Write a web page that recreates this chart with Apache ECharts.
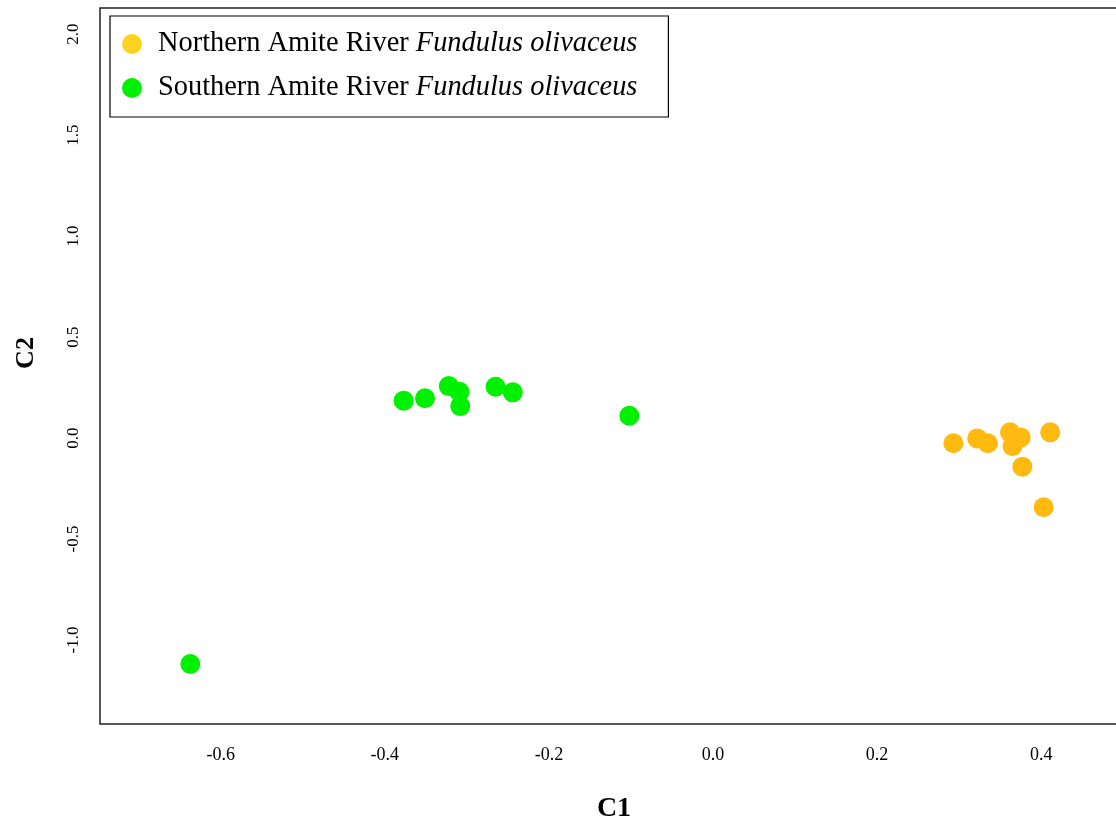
<!DOCTYPE html>
<html>
<head>
<meta charset="utf-8">
<script src="https://cdn.jsdelivr.net/npm/echarts@6/dist/echarts.min.js"></script>
<style>html,body{margin:0;padding:0;background:#fff}#c{width:1116px;height:820px}</style>
</head>
<body>
<div id="c"></div>
<script>
// Series names
const seriesNames = ['Northern Amite River Fundulus olivaceus', 'Southern Amite River Fundulus olivaceus'];
// Northern points [C1, C2]
const northernC1 = [0.293, 0.322, 0.335, 0.362, 0.375, 0.365, 0.411, 0.377, 0.403];
const northernC2 = [-0.026, -0.002, -0.026, 0.028, 0.003, -0.040, 0.028, -0.142, -0.343];
// Southern points [C1, C2]
const southernC1 = [-0.377, -0.351, -0.322, -0.309, -0.308, -0.265, -0.244, -0.102, -0.637];
const southernC2 = [0.185, 0.197, 0.257, 0.229, 0.158, 0.254, 0.226, 0.110, -1.119];
// Tick labels
const xTicks = [-0.6, -0.4, -0.2, 0.0, 0.2, 0.4];
const yTicks = [-1.0, -0.5, 0.0, 0.5, 1.0, 1.5, 2.0];

const serif = '"Liberation Serif", "Times New Roman", serif';
const northData = northernC1.map((v, i) => [v, northernC2[i]]);
const southData = southernC1.map((v, i) => [v, southernC2[i]]);

const chart = echarts.init(document.getElementById('c'), null, {renderer: 'canvas'});
chart.setOption({
  backgroundColor: '#fff',
  animation: false,
  grid: {left: 100, top: 8, width: 1028, height: 716, outerBoundsMode: 'none', containLabel: false,
         show: true, borderColor: '#222', borderWidth: 1.5, backgroundColor: 'transparent'},
  xAxis: {
    type: 'value', min: -0.7471, max: 0.5058,
    name: 'C1', nameLocation: 'middle', nameGap: 71,
    nameTextStyle: {fontFamily: serif, fontWeight: 'bold', fontSize: 28, color: '#000'},
    axisLine: {show: false}, axisTick: {show: false}, splitLine: {show: false},
    axisLabel: {customValues: xTicks, formatter: v => v.toFixed(1), margin: 22, fontFamily: serif, fontSize: 18, color: '#000'}
  },
  yAxis: {
    type: 'value', min: -1.416, max: 2.129,
    name: 'C2', nameLocation: 'middle', nameGap: 61,
    nameTextStyle: {fontFamily: serif, fontWeight: 'bold', fontSize: 26, color: '#000', padding: [0, 0, 0, 26]},
    axisLine: {show: false}, axisTick: {show: false}, splitLine: {show: false},
    axisLabel: {customValues: yTicks, formatter: v => v.toFixed(1), rotate: 90, margin: 18, fontFamily: serif, fontSize: 17, color: '#000'}
  },
  legend: {
    orient: 'vertical', left: 110, top: 16,
    padding: [14, 31, 15, 12],
    borderColor: '#000', borderWidth: 1.2, backgroundColor: '#fff',
    icon: 'circle', itemWidth: 20, itemHeight: 20, itemGap: 16,
    data: [
      {name: seriesNames[0], itemStyle: {color: '#ffd21f'}},
      {name: seriesNames[1], itemStyle: {color: '#00f000'}}
    ],
    formatter: function (name) {
      const parts = name.split(' River ');
      return '{n|' + parts[0] + ' River }{i|' + parts[1] + '}';
    },
    textStyle: {
      fontFamily: serif, fontSize: 28.4, color: '#000', padding: [0, 0, 0, 11],
      rich: {
        n: {fontFamily: serif, fontSize: 28.4, color: '#000'},
        i: {fontFamily: serif, fontSize: 28.4, color: '#000', fontStyle: 'italic'}
      }
    }
  },
  series: [
    {name: seriesNames[0], type: 'scatter', symbol: 'circle', symbolSize: 20, data: northData, itemStyle: {color: '#ffb90f', opacity: 1}},
    {name: seriesNames[1], type: 'scatter', symbol: 'circle', symbolSize: 20, data: southData, itemStyle: {color: '#00f000', opacity: 1}}
  ]
});
</script>
</body>
</html>
